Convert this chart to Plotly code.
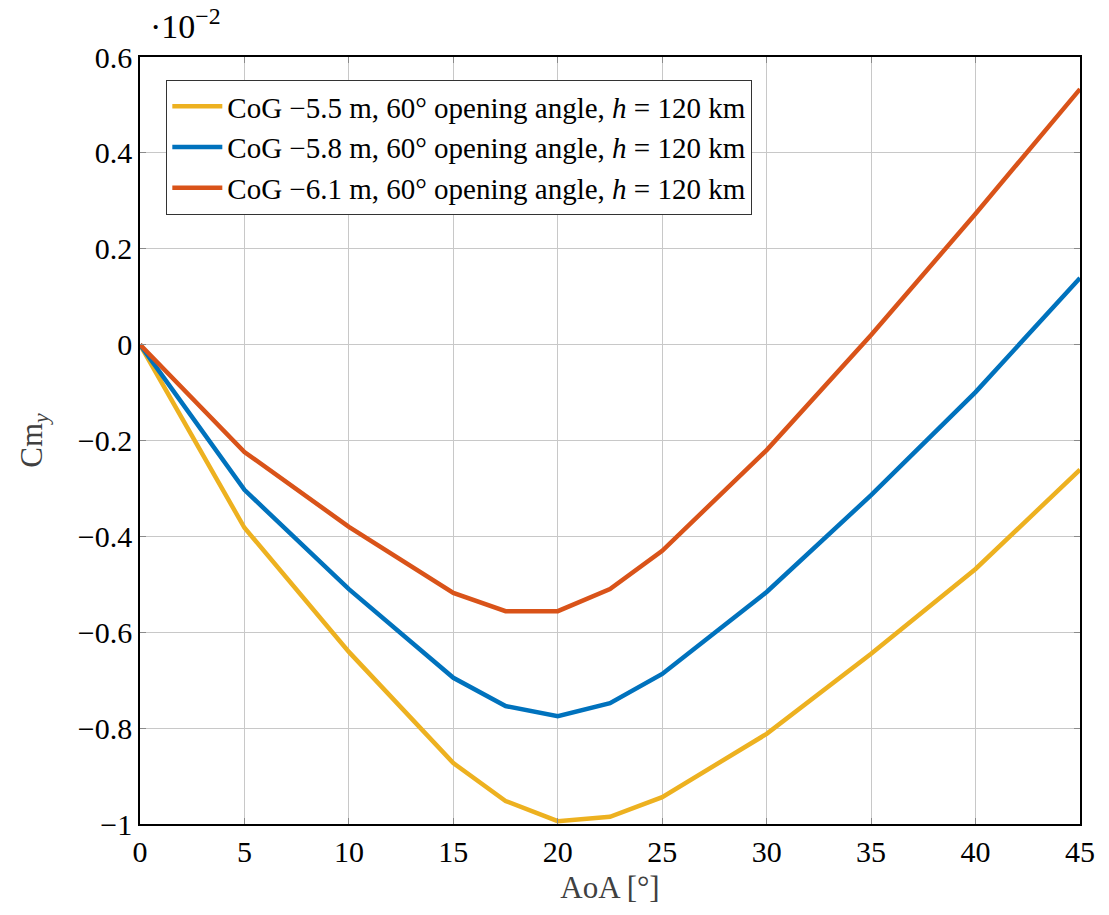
import plotly.graph_objects as go

# Angle of attack [deg]
aoa = [0, 5, 10, 15, 17.5, 20, 22.5, 25, 30, 35, 40, 45]

# Pitching moment coefficient Cm_y (in units of 1e-2)
cm_cog_55 = [0, -0.382, -0.641, -0.873, -0.952, -0.994, -0.985, -0.944, -0.812, -0.645, -0.468, -0.261]
cm_cog_58 = [0, -0.303, -0.510, -0.695, -0.754, -0.775, -0.748, -0.687, -0.516, -0.314, -0.099, 0.139]
cm_cog_61 = [0, -0.224, -0.380, -0.518, -0.556, -0.556, -0.510, -0.430, -0.220, 0.020, 0.273, 0.533]

series_names = [
    "CoG −5.5 m, 60° opening angle, <i>h</i> = 120 km",
    "CoG −5.8 m, 60° opening angle, <i>h</i> = 120 km",
    "CoG −6.1 m, 60° opening angle, <i>h</i> = 120 km",
]
series_colors = ["#EDB120", "#0072BD", "#D95319"]

x_ticks = [0, 5, 10, 15, 20, 25, 30, 35, 40, 45]
y_ticks = [-1, -0.8, -0.6, -0.4, -0.2, 0, 0.2, 0.4, 0.6]
y_tick_text = ["−1", "−0.8", "−0.6", "−0.4", "−0.2", "0", "0.2", "0.4", "0.6"]

FONT = "Liberation Serif"
FS = 30

fig = go.Figure()
for name, ys, col in zip(series_names, [cm_cog_55, cm_cog_58, cm_cog_61], series_colors):
    fig.add_trace(go.Scatter(x=aoa, y=ys, mode="lines", name=name,
                             line=dict(color=col, width=4.5)))

axis_common = dict(
    showgrid=True, gridcolor="#c8c8c8", gridwidth=1,
    showline=True, linecolor="black", linewidth=1.5, mirror="ticks",
    ticks="inside", ticklen=6, tickcolor="#8a8a8a",
    zeroline=False,
    tickfont=dict(family=FONT, size=FS, color="black"),
)

fig.update_layout(
    width=1109, height=915,
    margin=dict(l=140, r=29, t=57, b=91),
    paper_bgcolor="white", plot_bgcolor="white",
    font=dict(family=FONT, color="black"),
    showlegend=True,
    legend=dict(
        x=0.028, y=0.97, xanchor="left", yanchor="top",
        bgcolor="white", bordercolor="#333333", borderwidth=1,
        font=dict(family=FONT, size=29, color="black"),
        itemwidth=50, tracegroupgap=0,
    ),
    xaxis=dict(
        range=[0, 45], tickvals=x_ticks,
        title=dict(text="AoA [°]", font=dict(family=FONT, size=31, color="#404040"), standoff=10),
        **axis_common,
    ),
    yaxis=dict(
        range=[-1, 0.6], tickvals=y_ticks, ticktext=y_tick_text,
        title=dict(text="Cm<sub><i>y</i></sub>", font=dict(family=FONT, size=31, color="#404040"), standoff=26),
        **axis_common,
    ),
)

# Scale factor of the y axis
fig.add_annotation(
    text="·10<sup>−2</sup>", xref="paper", yref="paper",
    x=0.0, y=1.0, xanchor="left", yanchor="bottom", xshift=8, yshift=10,
    showarrow=False, font=dict(family=FONT, size=34, color="black"),
)

fig.write_html("out.html")
